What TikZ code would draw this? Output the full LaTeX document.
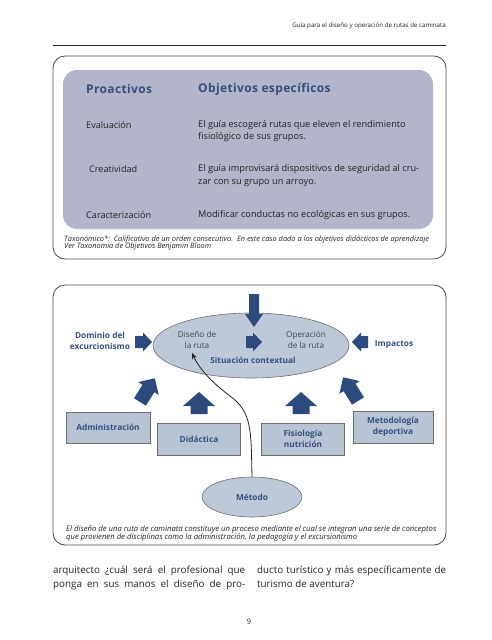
\documentclass[tikz,border=0pt]{standalone}
\usepackage{fontspec}
\setmainfont{Open Sans}[Ligatures=NoCommon]
\usetikzlibrary{shapes.geometric,arrows.meta}
\definecolor{ablue}{HTML}{2C4A7C}
\definecolor{tblue}{HTML}{33507F}
\definecolor{panel}{HTML}{B3B5CA}
\definecolor{efill}{HTML}{BDC8D9}
\definecolor{bfill}{HTML}{B8C3D4}
\definecolor{edge}{HTML}{4A4A4A}
\definecolor{bodyc}{HTML}{222222}
\newcommand{\barr}[7]{%
 \begin{scope}[shift={(#1,#2)},rotate=#3]
 \fill[ablue] (0,-#5) -- ({#4-#7},-#5) -- ({#4-#7},-#6) -- (#4,0) -- ({#4-#7},#6) -- ({#4-#7},#5) -- (0,#5) -- cycle;
 \end{scope}}
\tikzset{
 head/.style={anchor=west,inner sep=0,text=tblue,font=\fontsize{12}{13}\selectfont\bfseries\addfontfeature{LetterSpace=3}},
 rowlbl/.style={anchor=west,inner sep=0,text=bodyc,font=\fontsize{9.1}{12}\selectfont},
 rowtxt/.style={anchor=west,inner sep=0,text=bodyc,align=left,font=\fontsize{9.2}{12.5}\selectfont},
 note/.style={anchor=west,inner sep=0,text=bodyc,align=left,font=\fontsize{7.4}{7.7}\selectfont\itshape},
 blbl/.style={inner sep=0,text=tblue,align=center,font=\fontsize{8.3}{11.5}\selectfont\bfseries},
 elbl/.style={inner sep=0,text=bodyc!85,align=center,font=\fontsize{8.2}{11.5}\selectfont},
 discbox/.style={draw=edge!80,fill=bfill,line width=0.6pt,inner sep=0,text=tblue,align=center,font=\fontsize{8.3}{11.5}\selectfont\bfseries},
 bodytxt/.style={anchor=base west,inner sep=0,text=bodyc,font=\fontsize{9.8}{14}\selectfont},
 frame/.style={draw=edge,line width=0.8pt,rounded corners=12pt}
}
\begin{document}
\begin{tikzpicture}[x=1pt,y=-1pt]
\useasboundingbox (0,0) rectangle (492,640);
\fill[white] (0,0) rectangle (492,640);
% header
\node[anchor=base east,inner sep=0,text=bodyc,font=\fontsize{6.2}{7}\selectfont] (hdr) at (446,27) {Guía para el diseño y operación de rutas de caminata};
\coordinate (rl) at (53,45); \coordinate (rr) at (446,45);
\draw[line width=0.9pt,bodyc] (rl) -- (rr);
% box 1
\draw[frame] (53,56) rectangle (446,259);
\fill[panel,rounded corners=14pt] (63,70) rectangle (433,229);
\node[head] (h1) at (86,89) {Proactivos};
\node[head] (h2) at (198,89) {Objetivos específicos};
\node[rowlbl] (l1) at (86,125) {Evaluación};
\node[rowtxt] (t1) at (198,131) {El guía escogerá rutas que eleven el rendimiento\\fisiológico de sus grupos.};
\node[rowlbl] (l2) at (89,169) {Creatividad};
\node[rowtxt] (t2) at (198,175.5) {El guía improvisará dispositivos de seguridad al cru-\\zar con su grupo un arroyo.};
\node[rowlbl] (l3) at (86,215) {Caracterización};
\node[rowtxt] (t3) at (198,215) {Modificar conductas no ecológicas en sus grupos.};
\node[note] (tax) at (64,243) {Taxonómico*:\ \ Calificativo de un orden consecutivo.\ \ En este caso dado a los objetivos didácticos de aprendizaje\\Ver Taxonomia de Objetivos Benjamin Bloom};
% box 2
\draw[frame] (53,285) rectangle (446,545);
\node[ellipse,draw=edge!80,fill=efill,line width=0.6pt,minimum width=196,minimum height=65,inner sep=0] (sit) at (251,345.5) {};
\node[elbl] (dis) at (197,340) {Diseño de\\la ruta};
\node[elbl] (ope) at (306,340) {Operación\\de la ruta};
\node[blbl] (ctx) at (253,360) {Situación contextual};
\node[blbl] (dom) at (100,341) {Dominio del\\excurcionismo};
\node[blbl] (imp) at (394,345) {Impactos};
\node[discbox,minimum width=84,minimum height=31] (adm) at (108,427.5) {Administración};
\node[discbox,minimum width=83,minimum height=32] (did) at (199,439) {Didáctica};
\node[discbox,minimum width=83,minimum height=32] (fis) at (303,439) {Fisiología\\nutrición};
\node[discbox,minimum width=80,minimum height=32] (met2) at (393,427) {Metodología\\deportiva};
\node[ellipse,draw=edge!80,fill=efill,line width=0.6pt,minimum width=100,minimum height=40,inner sep=0,text=tblue,font=\fontsize{8.3}{11}\selectfont\bfseries] (met) at (252,497) {Método};
% block arrows
\barr{254}{294}{-90}{33}{5}{9}{13}
\barr{246}{342}{0}{16}{6}{9.5}{9}
\barr{135}{342}{0}{17}{6}{9.5}{9}
\barr{368}{342}{180}{16}{6}{9.5}{9}
\barr{199}{414}{90}{22}{8.5}{16}{14}
\barr{301}{414}{90}{22}{8.5}{16}{14}
\barr{140}{402}{58}{28}{7}{12}{12}
\barr{358}{401}{122}{28}{7}{12}{12}
% curve
\coordinate (tipD) at (192,353);
\draw[-{Stealth[length=6pt,width=5pt]},line width=0.8pt,bodyc] (met.north) .. controls (251,430) and (252,412) .. (230,396) .. controls (210,381) and (199,368) .. (tipD);
\node[note,font=\fontsize{7.7}{7.8}\selectfont\itshape] (cap) at (66,533.5) {El diseño de una ruta de caminata constituye un proceso mediante el cual se integran una serie de conceptos\\que provienen de disciplinas como la administración, la pedagogía y el excursionismo};
% body text
\node[bodytxt] (b1) at (53,573) {\makebox[192pt][s]{arquitecto ¿cuál será el profesional que}};
\node[bodytxt] (b2) at (53,587) {\makebox[192pt][s]{ponga en sus manos el diseño de pro-}};
\node[bodytxt] (b3) at (257,573) {\makebox[189pt][s]{ducto turístico y más específicamente de}};
\node[bodytxt] (b4) at (257,587) {turismo de aventura?};
\node[inner sep=0,text=bodyc,font=\fontsize{7.5}{9}\selectfont] (pg) at (249,622) {9};
\end{tikzpicture}
\end{document}
